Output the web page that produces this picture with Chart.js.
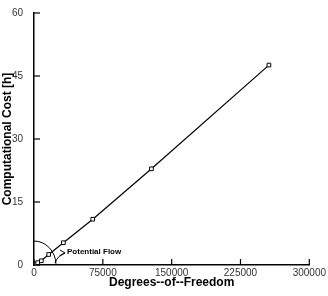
<!DOCTYPE html>
<html>
<head>
<meta charset="utf-8">
<script src="https://cdn.jsdelivr.net/npm/chart.js@4.4.0/dist/chart.umd.min.js"></script>
<style>
  html, body { margin: 0; padding: 0; background: #fff; }
  .chart-wrapper { width: 328px; height: 296px; }
</style>
</head>
<body>
<div class="chart-wrapper">
  <canvas id="costChart" width="328" height="296"></canvas>
</div>
<script>
// degrees of freedom vs computational cost
const dofs = [1000, 2000, 4000, 8000, 16000, 32000, 64000, 128000, 256000];
const costs = [0.1, 0.25, 0.55, 1.0, 2.5, 5.3, 10.9, 22.9, 47.6];
const xTicks = [0, 75000, 150000, 225000, 300000];
const yTicks = [0, 15, 30, 45, 60];
const xTitle = 'Degrees--of--Freedom';
const noteLabel = 'Potential Flow';

const fontFamily = '"Liberation Sans", Arial, sans-serif';

// inward tick marks, x title + the potential flow annotation
const extrasPlugin = {
  id: 'extras',
  afterDraw: (chart) => {
    const ctx = chart.ctx;
    const x = chart.scales.x;
    const y = chart.scales.y;
    ctx.save();
    ctx.strokeStyle = '#000';
    ctx.lineWidth = 1.2;
    xTicks.forEach(v => {
      const px = x.getPixelForValue(v);
      ctx.beginPath();
      ctx.moveTo(px, y.bottom);
      ctx.lineTo(px, y.bottom - 6);
      ctx.stroke();
    });
    yTicks.forEach(v => {
      const py = y.getPixelForValue(v);
      ctx.beginPath();
      ctx.moveTo(x.left, py);
      ctx.lineTo(x.left + 6, py);
      ctx.stroke();
    });

    ctx.fillStyle = '#000';
    ctx.font = 'bold 12px ' + fontFamily;
    ctx.textAlign = 'center';
    ctx.textBaseline = 'middle';
    ctx.fillText(xTitle, (x.left + x.right) / 2, y.bottom + 18);

    const ox = x.getPixelForValue(0);
    const oy = y.getPixelForValue(0);
    ctx.lineWidth = 1;
    ctx.beginPath();
    ctx.ellipse(ox, oy, 22, 24, 0, -Math.PI / 2, -0.05);
    ctx.stroke();

    // arrow from arc to label
    ctx.beginPath();
    ctx.moveTo(ox + 21, oy - 2);
    ctx.quadraticCurveTo(ox + 24, oy - 10, ox + 31, oy - 12);
    ctx.stroke();
    ctx.beginPath();
    ctx.moveTo(ox + 26, oy - 15);
    ctx.lineTo(ox + 31, oy - 12);
    ctx.lineTo(ox + 26, oy - 9);
    ctx.stroke();

    ctx.font = 'bold 8px ' + fontFamily;
    ctx.textAlign = 'left';
    ctx.fillText(noteLabel, ox + 33, oy - 13);
    ctx.restore();
  }
};

new Chart(document.getElementById('costChart'), {
  type: 'scatter',
  data: {
    datasets: [{
      data: dofs.map((d, i) => ({ x: d, y: costs[i] })),
      showLine: true,
      borderColor: '#000',
      borderWidth: 1.2,
      pointStyle: 'rect',
      pointRadius: 2.6,
      pointBorderWidth: 1,
      pointBorderColor: '#000',
      pointBackgroundColor: '#fff',
      tension: 0
    }]
  },
  options: {
    responsive: false,
    animation: false,
    layout: { padding: { top: 13, right: 17, left: 0, bottom: 0 } },
    plugins: {
      legend: { display: false },
      tooltip: { enabled: false }
    },
    scales: {
      x: {
        type: 'linear',
        min: 0,
        max: 300000,
        afterBuildTicks: (scale) => { scale.ticks = xTicks.map(v => ({ value: v })); },
        afterFit: (scale) => { scale.height = 31; },
        grid: { display: false, drawTicks: false },
        border: { display: true, color: '#000', width: 1.5 },
        ticks: {
          color: '#333',
          padding: 2,
          maxRotation: 0,
          font: { family: fontFamily, size: 10 },
          callback: (v) => String(v)
        },
        title: { display: false }
      },
      y: {
        type: 'linear',
        min: 0,
        max: 60,
        afterBuildTicks: (scale) => { scale.ticks = yTicks.map(v => ({ value: v })); },
        afterFit: (scale) => { scale.width = 34; },
        grid: { display: false },
        border: { display: true, color: '#000', width: 1.5 },
        ticks: {
          color: '#333',
          padding: 3,
          font: { family: fontFamily, size: 10 }
        },
        title: {
          display: true,
          text: 'Computational Cost [h]',
          color: '#000',
          padding: { top: 0, bottom: 0 },
          font: { family: fontFamily, size: 12, weight: 'bold' }
        }
      }
    }
  },
  plugins: [extrasPlugin]
});
</script>
</body>
</html>
